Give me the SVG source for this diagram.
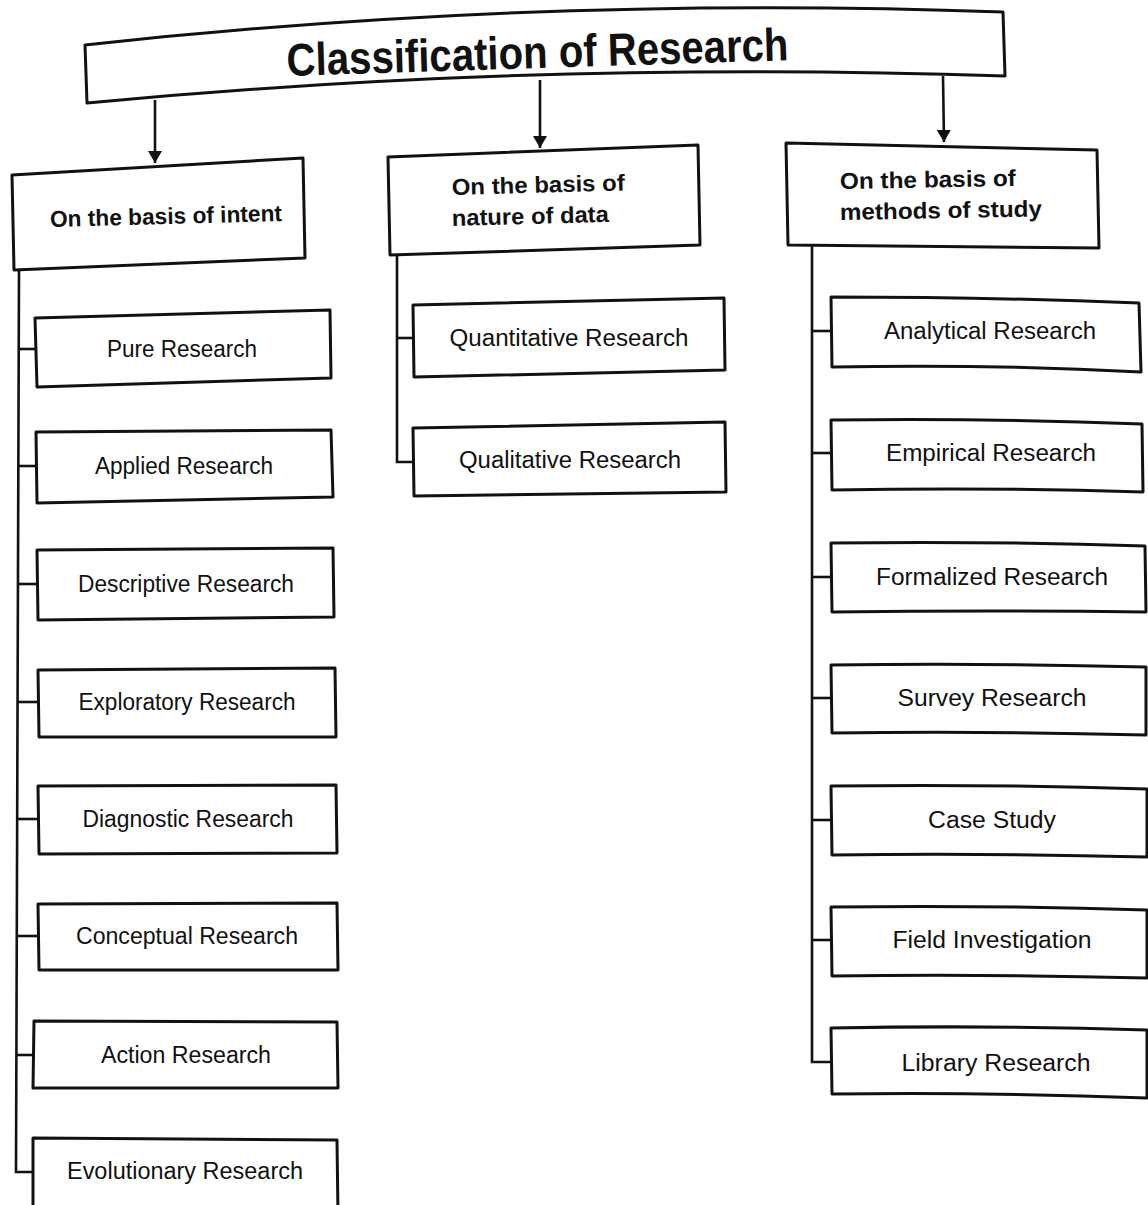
<svg xmlns="http://www.w3.org/2000/svg" width="1148" height="1205" viewBox="0 0 1148 1205">
<defs>
<style>
.box{fill:#fff;stroke:#111;stroke-width:3;stroke-linejoin:round}
.ln{fill:none;stroke:#111;stroke-width:2.6}
.item{font-family:"Liberation Sans",Arial,sans-serif;font-size:23px;fill:#111;text-anchor:middle}
.cat{font-family:"Liberation Sans",Arial,sans-serif;font-size:23px;font-weight:bold;fill:#111}
.title{font-family:"Liberation Sans",Arial,sans-serif;font-size:46px;font-weight:bold;fill:#111;text-anchor:middle}
</style>
<marker id="arr" viewBox="0 0 12 14" refX="12" refY="7" markerWidth="12" markerHeight="14" orient="auto" markerUnits="userSpaceOnUse">
<path d="M0,0 L12,7 L0,14 z" fill="#111"/>
</marker>
</defs>
<rect width="1148" height="1205" fill="#fff"/>

<g id="connectors">
<line class="ln" x1="155" y1="100" x2="155" y2="163" marker-end="url(#arr)"/>
<line class="ln" x1="540" y1="80" x2="540" y2="148" marker-end="url(#arr)"/>
<line class="ln" x1="943" y1="76" x2="944" y2="142" marker-end="url(#arr)"/>
<polyline class="ln" points="19,270 16,1172 34,1172"/>
<line class="ln" x1="18" y1="349" x2="36" y2="349"/>
<line class="ln" x1="18" y1="466" x2="37" y2="466"/>
<line class="ln" x1="18" y1="584" x2="38" y2="584"/>
<line class="ln" x1="17" y1="702" x2="39" y2="702"/>
<line class="ln" x1="17" y1="819" x2="39" y2="819"/>
<line class="ln" x1="17" y1="936" x2="39" y2="936"/>
<line class="ln" x1="16" y1="1055" x2="34" y2="1055"/>
<polyline class="ln" points="397,255 397,462 414,462"/>
<line class="ln" x1="397" y1="338" x2="414" y2="338"/>
<polyline class="ln" points="812,245 812,1062 832,1062"/>
<line class="ln" x1="812" y1="331" x2="832" y2="331"/>
<line class="ln" x1="812" y1="453" x2="832" y2="453"/>
<line class="ln" x1="812" y1="577" x2="832" y2="577"/>
<line class="ln" x1="812" y1="698" x2="832" y2="698"/>
<line class="ln" x1="812" y1="820" x2="832" y2="820"/>
<line class="ln" x1="812" y1="940" x2="832" y2="940"/>
</g>

<g id="title">
<path class="box" d="M85,45 Q540,-5 1003,12 L1005,76 Q540,60 87,103 Z"/>
<text class="title" x="538" y="68" transform="rotate(-1.8 538 68)" textLength="502" lengthAdjust="spacingAndGlyphs">Classification of Research</text>
</g>

<g id="cat-intent">
<polygon class="box" points="12,175 303,158 305,258 14,270"/>
<text class="cat" x="50" y="224" transform="rotate(-1.5 166 218)" textLength="232" lengthAdjust="spacingAndGlyphs">On the basis of intent</text>
</g>
<g id="cat-data">
<polygon class="box" points="388,157 698,145 700,245 390,255"/>
<text class="cat" x="452" y="195" transform="rotate(-1.5 452 195)" textLength="173" lengthAdjust="spacingAndGlyphs">On the basis of</text>
<text class="cat" x="452" y="226" transform="rotate(-1.5 452 226)" textLength="157" lengthAdjust="spacingAndGlyphs">nature of data</text>
</g>
<g id="cat-methods">
<polygon class="box" points="786,143 1097,150 1099,248 788,245"/>
<text class="cat" x="840" y="189" transform="rotate(-1 840 189)" textLength="176" lengthAdjust="spacingAndGlyphs">On the basis of</text>
<text class="cat" x="840" y="220" transform="rotate(-1 840 220)" textLength="202" lengthAdjust="spacingAndGlyphs">methods of study</text>
</g>

<g id="pure"><polygon class="box" points="35,318 330,310 331,378 37,387"/><text class="item" x="182" y="357" textLength="150" lengthAdjust="spacingAndGlyphs">Pure Research</text></g>
<g id="applied"><polygon class="box" points="36,432 331,430 333,497 37,503"/><text class="item" x="184" y="474" textLength="178" lengthAdjust="spacingAndGlyphs">Applied Research</text></g>
<g id="descriptive"><polygon class="box" points="37,550 333,548 334,617 38,620"/><text class="item" x="186" y="592" textLength="216" lengthAdjust="spacingAndGlyphs">Descriptive Research</text></g>
<g id="exploratory"><polygon class="box" points="38,670 335,668 336,737 39,737"/><text class="item" x="187" y="710" textLength="217" lengthAdjust="spacingAndGlyphs">Exploratory Research</text></g>
<g id="diagnostic"><polygon class="box" points="38,786 336,785 337,853 39,854"/><text class="item" x="188" y="827" textLength="211" lengthAdjust="spacingAndGlyphs">Diagnostic Research</text></g>
<g id="conceptual"><polygon class="box" points="38,904 337,903 338,970 39,970"/><text class="item" x="187" y="944" textLength="222" lengthAdjust="spacingAndGlyphs">Conceptual Research</text></g>
<g id="action"><polygon class="box" points="34,1021 337,1022 338,1088 33,1088"/><text class="item" x="186" y="1063" textLength="170" lengthAdjust="spacingAndGlyphs">Action Research</text></g>
<g id="evolutionary"><polygon class="box" points="33,1138 337,1140 338,1215 33,1215"/><text class="item" x="185" y="1179" textLength="236" lengthAdjust="spacingAndGlyphs">Evolutionary Research</text></g>

<g id="quantitative"><polygon class="box" points="413,305 724,298 725,370 414,377"/><text class="item" x="569" y="346" textLength="239" lengthAdjust="spacingAndGlyphs">Quantitative Research</text></g>
<g id="qualitative"><polygon class="box" points="413,428 725,422 726,492 414,496"/><text class="item" x="570" y="468" textLength="222" lengthAdjust="spacingAndGlyphs">Qualitative Research</text></g>

<g id="analytical"><path class="box" d="M831,297 Q990,297 1139,303 L1141,372 Q990,364 832,367 Z"/><text class="item" x="990" y="339" textLength="212" lengthAdjust="spacingAndGlyphs">Analytical Research</text></g>
<g id="empirical"><path class="box" d="M831,420 Q990,418 1142,424 L1143,492 Q990,487 832,490 Z"/><text class="item" x="991" y="461" textLength="210" lengthAdjust="spacingAndGlyphs">Empirical Research</text></g>
<g id="formalized"><path class="box" d="M831,543 Q990,541 1145,546 L1146,612 Q990,610 832,612 Z"/><text class="item" x="992" y="585" textLength="232" lengthAdjust="spacingAndGlyphs">Formalized Research</text></g>
<g id="survey"><path class="box" d="M831,665 Q990,663 1146,667 L1146,735 Q990,731 832,733 Z"/><text class="item" x="992" y="706" textLength="189" lengthAdjust="spacingAndGlyphs">Survey Research</text></g>
<g id="case"><path class="box" d="M831,786 Q990,784 1147,789 L1147,857 Q990,853 832,855 Z"/><text class="item" x="992" y="828" textLength="128" lengthAdjust="spacingAndGlyphs">Case Study</text></g>
<g id="field"><path class="box" d="M831,907 Q990,905 1147,910 L1147,978 Q990,974 832,976 Z"/><text class="item" x="992" y="948" textLength="199" lengthAdjust="spacingAndGlyphs">Field Investigation</text></g>
<g id="library"><path class="box" d="M831,1028 Q990,1025 1147,1030 L1147,1098 Q990,1092 832,1094 Z"/><text class="item" x="996" y="1071" textLength="189" lengthAdjust="spacingAndGlyphs">Library Research</text></g>
</svg>
